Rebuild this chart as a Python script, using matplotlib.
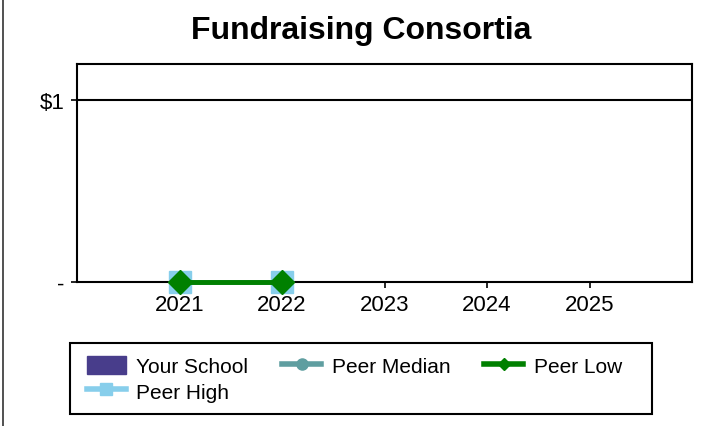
import matplotlib
matplotlib.use("Agg")
import matplotlib.pyplot as plt
import numpy as np
from matplotlib.patches import Patch
from matplotlib.lines import Line2D

plt.rcParams['font.family'] = ['Liberation Sans', 'DejaVu Sans']

years = ["2021", "2022", "2023", "2024", "2025"]
your_school = [np.nan, np.nan, np.nan, np.nan, np.nan]
peer_median = [0, 0, np.nan, np.nan, np.nan]
peer_low = [0, 0, np.nan, np.nan, np.nan]
peer_high = [0, 0, np.nan, np.nan, np.nan]
y_ticks = [0, 1]
y_ticklabels = ["-", "$1"]

fig = plt.figure(figsize=(7.18, 4.27), dpi=100)
ax = fig.add_axes([77/718, 1-283/427, (692-77)/718, (283-65)/427])

x = np.arange(len(years))
ax.bar(x, np.nan_to_num(your_school), width=0.5, color="#483D8B")
ax.plot(x, peer_high, color="#87CEEB", lw=3.5, marker="s", ms=16, zorder=3, clip_on=False)
ax.plot(x, peer_median, color="#5F9EA0", lw=3.5, marker="o", ms=10, zorder=4, clip_on=False)
ax.plot(x, peer_low, color="#008000", lw=3.5, marker="D", ms=12, zorder=5, clip_on=False)

ax.set_xlim(-1, 5)
ax.set_ylim(0, 1.2)
ax.set_xticks(x)
ax.set_xticklabels(years, fontsize=16)
ax.set_yticks(y_ticks)
ax.set_yticklabels(y_ticklabels, fontsize=16)
ax.tick_params(axis='both', direction='out', length=4, width=1.2, pad=5)
ax.axhline(1, color='black', lw=1.5, zorder=1)
for s in ax.spines.values():
    s.set_linewidth(1.5)

fig.text(361/718, 1-31/427, "Fundraising Consortia", ha='center', va='center',
         fontsize=23, fontweight='bold')

handles = [
    Patch(facecolor="#483D8B", edgecolor="#483D8B"),
    Line2D([], [], color="#87CEEB", lw=4, marker="s", ms=8),
    Line2D([], [], color="#5F9EA0", lw=4, marker="o", ms=8),
    Line2D([], [], color="#008000", lw=4, marker="D", ms=6),
]
labels = ["Your School", "Peer High", "Peer Median", "Peer Low"]
leg = fig.legend(handles, labels, ncol=3, loc='upper left',
                 bbox_to_anchor=(74/718, 1-344/427), fontsize=15,
                 frameon=False,
                 handlelength=1.9, handleheight=1.0, handletextpad=0.5,
                 columnspacing=1.6, borderaxespad=0, labelspacing=0.25,
                 borderpad=0.6)
# legend frame drawn as a rectangle matching the reference box
fig.add_artist(plt.Rectangle((70/718, 1-415/427), (652-70)/718, (415-344)/427,
                             fill=False, edgecolor='black', lw=1.5,
                             transform=fig.transFigure))

fig.add_artist(Line2D([2.5/718, 2.5/718], [0, 1], color='#333333', lw=1.2,
                      transform=fig.transFigure))

fig.savefig("out.png", dpi=100)
